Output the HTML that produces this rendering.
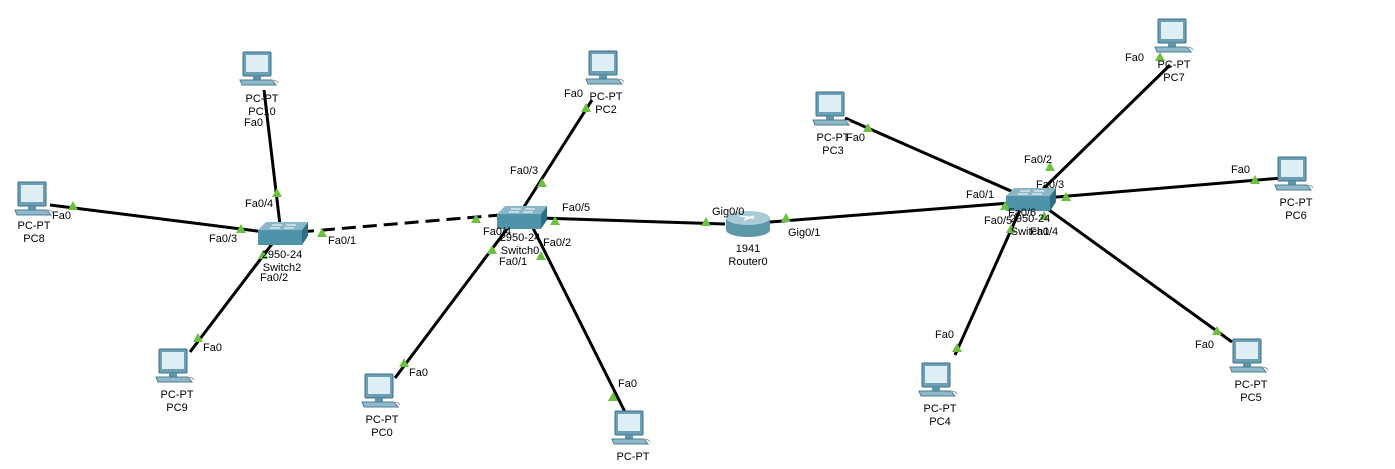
<!DOCTYPE html>
<html><head><meta charset="utf-8"><style>
body{margin:0;background:#fff;}
svg text{font-family:"Liberation Sans",Arial,sans-serif;font-size:11px;fill:#000;}
</style></head><body>
<svg width="1395" height="464" xmlns="http://www.w3.org/2000/svg">
<defs>
<g id="pc">
<rect x="3" y="0" width="28" height="24" rx="1" fill="#6a9fb5" stroke="#3d6f85"/>
<rect x="6" y="3" width="22" height="17" fill="#dfeef5"/>
<rect x="13" y="24" width="8" height="4" fill="#5f93a8"/>
<path d="M0 28 L32 28 L36 33 L2 33 Z" fill="#8fb9cb" stroke="#4b7f95"/>
<path d="M30 29 q6 -2 8 2" stroke="#999" fill="none"/>
</g>
<g id="sw">
<path d="M0 8 L8 0 L50 0 L44 8 Z" fill="#8ab6c8"/>
<rect x="0" y="8" width="44" height="15" fill="#4f93a8"/>
<path d="M44 8 L50 0 L50 14 L44 23 Z" fill="#2f6f83"/>
<path d="M14 3 h10 M28 3 h10 M12 6 h10 M26 6 h10" stroke="#fff" stroke-width="1"/>
</g>
<g id="tri"><path d="M0 0 L5 -9 L10 0 Z" fill="#6cbf3f"/></g>
</defs>
<g stroke="#000" stroke-width="3" fill="none">
<line x1="264" y1="90" x2="280" y2="225"/>
<line x1="50" y1="205" x2="265" y2="232"/>
<line x1="190" y1="352" x2="272" y2="244"/>
<line x1="395" y1="378" x2="510" y2="225"/>
<line x1="530" y1="222" x2="625" y2="412"/>
<line x1="592" y1="100" x2="522" y2="210"/>
<line x1="540" y1="218" x2="725" y2="224"/>
<line x1="770" y1="222" x2="1010" y2="203"/>
<line x1="845" y1="118" x2="1020" y2="195"/>
<line x1="1170" y1="65" x2="1040" y2="192"/>
<line x1="1282" y1="178" x2="1045" y2="198"/>
<line x1="1232" y1="342" x2="1045" y2="207"/>
<line x1="955" y1="355" x2="1020" y2="210"/>
<line x1="300" y1="232" x2="500" y2="215" stroke-dasharray="14,7"/>
</g>
<use href="#pc" x="240" y="52"/>
<use href="#pc" x="15" y="182"/>
<use href="#pc" x="156" y="349"/>
<use href="#pc" x="362" y="374"/>
<use href="#pc" x="612" y="411"/>
<use href="#pc" x="586" y="51"/>
<use href="#pc" x="813" y="92"/>
<use href="#pc" x="1155" y="19"/>
<use href="#pc" x="1275" y="157"/>
<use href="#pc" x="1230" y="339"/>
<use href="#pc" x="919" y="363"/>
<use href="#sw" x="258" y="222"/>
<use href="#sw" x="497" y="206"/>
<use href="#sw" x="1006" y="188"/>
<g>
<rect x="726" y="218" width="44" height="12" fill="#5d97aa"/>
<ellipse cx="748" cy="230" rx="22" ry="7" fill="#5d97aa"/>
<ellipse cx="748" cy="218" rx="22" ry="7" fill="#a9ccd8"/>
<path d="M740 216 l14 2 M744 220 l10 -4" stroke="#fff" stroke-width="1.5"/>
</g>
<g>
<use href="#tri" x="272" y="197"/><use href="#tri" x="68" y="210"/><use href="#tri" x="236" y="233"/>
<use href="#tri" x="317" y="237"/><use href="#tri" x="258" y="259"/><use href="#tri" x="193" y="342"/>
<use href="#tri" x="471" y="223"/><use href="#tri" x="550" y="225"/><use href="#tri" x="487" y="254"/>
<use href="#tri" x="536" y="260"/><use href="#tri" x="399" y="367"/><use href="#tri" x="608" y="401"/>
<use href="#tri" x="537" y="187"/><use href="#tri" x="581" y="112"/>
<use href="#tri" x="701" y="226"/><use href="#tri" x="781" y="222"/>
<use href="#tri" x="863" y="132"/><use href="#tri" x="1045" y="171"/><use href="#tri" x="1061" y="201"/>
<use href="#tri" x="1250" y="184"/><use href="#tri" x="1039" y="220"/><use href="#tri" x="1212" y="335"/>
<use href="#tri" x="952" y="352"/><use href="#tri" x="1006" y="233"/><use href="#tri" x="1000" y="210"/><use href="#tri" x="1155" y="61"/>
</g>
<g text-anchor="middle">
<text x="262" y="102">PC-PT</text><text x="262" y="115">PC10</text>
<text x="34" y="229">PC-PT</text><text x="34" y="242">PC8</text>
<text x="177" y="398">PC-PT</text><text x="177" y="411">PC9</text>
<text x="382" y="423">PC-PT</text><text x="382" y="436">PC0</text>
<text x="633" y="460">PC-PT</text>
<text x="606" y="100">PC-PT</text><text x="606" y="113">PC2</text>
<text x="833" y="141">PC-PT</text><text x="833" y="154">PC3</text>
<text x="1174" y="68">PC-PT</text><text x="1174" y="81">PC7</text>
<text x="1296" y="206">PC-PT</text><text x="1296" y="219">PC6</text>
<text x="1251" y="388">PC-PT</text><text x="1251" y="401">PC5</text>
<text x="940" y="412">PC-PT</text><text x="940" y="425">PC4</text>
<text x="282" y="258">2950-24</text><text x="282" y="271">Switch2</text>
<text x="520" y="241">2950-24</text><text x="520" y="254">Switch0</text>
<text x="1030" y="222">2950-24</text><text x="1030" y="235">Switch1</text>
<text x="748" y="252">1941</text><text x="748" y="265">Router0</text>
</g>
<text x="244" y="126">Fa0</text><text x="245" y="207">Fa0/4</text><text x="52" y="219">Fa0</text>
<text x="209" y="242">Fa0/3</text><text x="328" y="244">Fa0/1</text><text x="260" y="281">Fa0/2</text>
<text x="203" y="351">Fa0</text><text x="483" y="235">Fa0/4</text><text x="562" y="211">Fa0/5</text>
<text x="543" y="246">Fa0/2</text><text x="499" y="265">Fa0/1</text><text x="510" y="174">Fa0/3</text>
<text x="564" y="97">Fa0</text><text x="409" y="376">Fa0</text><text x="618" y="387">Fa0</text>
<text x="712" y="215">Gig0/0</text><text x="788" y="236">Gig0/1</text>
<text x="846" y="141">Fa0</text><text x="1125" y="61">Fa0</text><text x="1024" y="163">Fa0/2</text>
<text x="966" y="198">Fa0/1</text><text x="1036" y="188">Fa0/3</text><text x="1231" y="173">Fa0</text>
<text x="1008" y="216">Fa0/6</text><text x="984" y="224">Fa0/5</text><text x="1030" y="235">Fa0/4</text>
<text x="1195" y="348">Fa0</text><text x="935" y="338">Fa0</text>
</svg>
</body></html>
